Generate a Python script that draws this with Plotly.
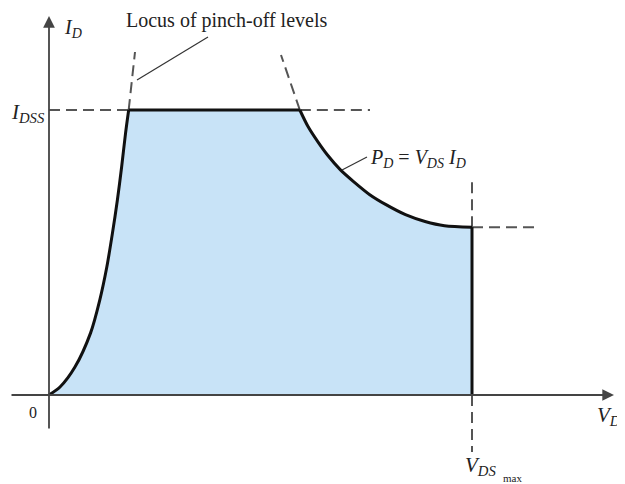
import plotly.graph_objects as go

# ---------------- data (V_DS in volts, I_D in mA) ----------------
I_DSS = 10.0
V_DS_MAX = 30.0
vds_rise = [0.0, 0.78, 1.84, 2.95, 3.60, 4.10, 4.50, 4.85, 5.15, 5.43, 5.65]
id_rise = [0.0, 0.28, 0.98, 2.18, 3.33, 4.49, 5.68, 6.84, 8.00, 9.19, 10.0]
vds_pd = [17.79, 18.37, 19.06, 19.75, 20.67, 21.6, 22.75, 23.9, 25.28,
          26.67, 28.05, 30.0]
id_pd = [10.0, 9.42, 8.89, 8.42, 7.90, 7.49, 7.03, 6.68, 6.33,
         6.09, 5.94, 5.89]

# ---------------- layout helpers (page pixel -> data) ----------------
W, H = 625, 484
OFF = 8                   # default page body margin around the plot div
X0, Y0 = 49, 395          # page pixel position of the origin
SX, SY = 14.1, 28.5       # pixels per volt, pixels per mA


def px(x):
    return (x - X0) / SX


def py(y):
    return (Y0 - y) / SY


FILL = "#c8e3f7"
AX = "#444444"
DASH_C = "#555555"
TXT = "#222222"
FONT = "Liberation Serif"

fig = go.Figure()

# shaded safe operating region
fig.add_trace(go.Scatter(
    x=vds_rise + vds_pd + [V_DS_MAX], y=id_rise + id_pd + [0],
    mode="lines", line=dict(width=0, color=FILL), fill="tozeroy",
    fillcolor=FILL, hoverinfo="skip"))

# boundary curves
blk = dict(color="#111111", width=3)
fig.add_trace(go.Scatter(x=vds_rise, y=id_rise, mode="lines",
                         line=dict(shape="spline", smoothing=0.8, **blk)))
fig.add_trace(go.Scatter(x=[vds_rise[-1], vds_pd[0]], y=[I_DSS, I_DSS],
                         mode="lines", line=blk))
fig.add_trace(go.Scatter(x=vds_pd, y=id_pd, mode="lines",
                         line=dict(shape="spline", smoothing=0.8, **blk)))
fig.add_trace(go.Scatter(x=[V_DS_MAX, V_DS_MAX], y=[id_pd[-1], 0],
                         mode="lines", line=blk))

# dashed guides
dash = dict(color=DASH_C, width=2, dash="11px,6px")
guides = [
    (0, I_DSS, vds_rise[-1], I_DSS),
    (vds_pd[0], I_DSS, px(370), I_DSS),
    (vds_rise[-1], I_DSS, px(135), py(52)),
    (vds_pd[0], I_DSS, px(281), py(55)),
    (V_DS_MAX, id_pd[-1], V_DS_MAX, py(180)),
    (V_DS_MAX, id_pd[-1], px(540), id_pd[-1]),
    (V_DS_MAX, 0, V_DS_MAX, py(452)),
]
for x0, y0, x1, y1 in guides:
    fig.add_shape(type="line", x0=x0, y0=y0, x1=x1, y1=y1,
                  xref="x", yref="y", line=dash, layer="below")

# leader lines
lead = dict(color="#333333", width=1.2)
fig.add_shape(type="line", x0=px(137), y0=py(80), x1=px(208), y1=py(37),
              line=lead)
fig.add_shape(type="line", x0=px(342), y0=py(170), x1=px(367), y1=py(157),
              line=lead)

# axes with arrows
fig.add_annotation(x=px(614), y=0, ax=px(10), ay=0, axref="x", ayref="y",
                   xref="x", yref="y", text="", showarrow=True,
                   arrowhead=2, arrowsize=1.3, arrowwidth=1.8, arrowcolor=AX)
fig.add_annotation(x=0, y=py(16), ax=0, ay=py(430), axref="x", ayref="y",
                   xref="x", yref="y", text="", showarrow=True,
                   arrowhead=2, arrowsize=1.3, arrowwidth=1.8, arrowcolor=AX)


def label(text, x, y, size, xanchor="left", yanchor="middle"):
    fig.add_annotation(x=px(x), y=py(y), xref="x", yref="y", text=text,
                       showarrow=False, xanchor=xanchor, yanchor=yanchor,
                       font=dict(family=FONT, size=size, color=TXT))


label("Locus of pinch-off levels", 226, 20, 20, xanchor="center")
label("<i>I<sub>D</sub></i>", 62, 28, 20)
label("<i>I<sub>DSS</sub></i>", 9, 113, 21)
label("0", 33, 412, 16, xanchor="center")
label("<i>V<sub>DS</sub></i>", 595, 416, 21)
label("<i>P<sub>D</sub></i> = <i>V<sub>DS</sub> I<sub>D</sub></i>", 368, 158, 20)
label("<i>V<sub>DS</sub></i>", 463, 466, 21)
label("max", 501, 478, 11)

fig.update_layout(
    width=W, height=H, margin=dict(l=0, r=0, t=0, b=0),
    paper_bgcolor="white", plot_bgcolor="white", showlegend=False,
    xaxis=dict(visible=False, range=[px(OFF), px(OFF + W)], fixedrange=True),
    yaxis=dict(visible=False, range=[py(OFF + H), py(OFF)], fixedrange=True),
)

fig.write_html("out.html", config={"displayModeBar": False})
